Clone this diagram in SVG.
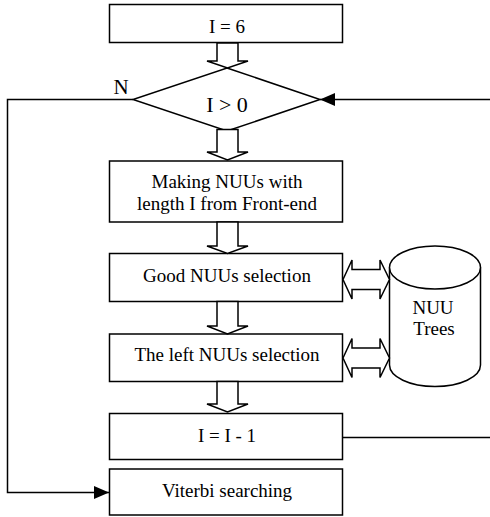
<svg xmlns="http://www.w3.org/2000/svg" width="490" height="517" viewBox="0 0 490 517">
<style>
.box{fill:#fff;stroke:#000;stroke-width:1.5}
.ln{fill:none;stroke:#000;stroke-width:1.5}
.blk{fill:#fff;stroke:#000;stroke-width:1.5;stroke-linejoin:miter}
text{font-family:"Liberation Serif","Times New Roman",serif;font-size:19px;fill:#000;text-anchor:middle}
</style>
<defs>
<marker id="ah" markerWidth="15" markerHeight="13" refX="15" refY="6.5" orient="auto" markerUnits="userSpaceOnUse">
<path d="M0,0 L15,6.5 L0,13 Z" fill="#000"/>
</marker>
</defs>
<g id="connectors">
<path class="ln" d="M133,99.5 H7.5 V492.5 H109" marker-end="url(#ah)"/>
<path class="ln" d="M490,99.5 H320" marker-end="url(#ah)"/>
<path class="ln" d="M343,437.5 H490"/>
</g>
<g id="n_init">
<rect class="box" x="109.5" y="4.5" width="233" height="38"/>
<text x="227" y="33">I = 6</text>
</g>
<g id="n_cond">
<polygon class="box" points="227,68 320,99.5 227,131 133,99.5"/>
<text x="227" y="112" style="font-size:22px">I &gt; 0</text>
<text x="121" y="94" style="font-size:21px">N</text>
</g>
<g id="n_make">
<rect class="box" x="109.5" y="161" width="233" height="61"/>
<text x="227" y="188">Making NUUs with</text>
<text x="227" y="210">length I from Front-end</text>
</g>
<g id="n_good">
<rect class="box" x="109.5" y="253.5" width="233" height="48"/>
<text x="227" y="282">Good NUUs selection</text>
</g>
<g id="n_left">
<rect class="box" x="109.5" y="334" width="233" height="47.5"/>
<text x="227" y="361">The left NUUs selection</text>
</g>
<g id="n_dec">
<rect class="box" x="109.5" y="413.5" width="233" height="46"/>
<text x="227" y="442">I = I - 1</text>
</g>
<g id="n_viterbi">
<rect class="box" x="109.5" y="469" width="233" height="46"/>
<text x="227" y="497">Viterbi searching</text>
</g>
<g id="n_trees">
<path class="box" d="M389.5,267.5 V365 A45.5,21.5 0 0 0 480.5,365 V267.5"/>
<ellipse class="box" cx="435" cy="267.5" rx="45.5" ry="21.5"/>
<text x="433" y="314">NUU</text>
<text x="434" y="335">Trees</text>
</g>
<g id="block_arrows">
<path class="blk" d="M217,43 V61 H207 L227.5,68 L248,61 H238 V43 Z"/>
<path class="blk" d="M217,129.5 V152 H207 L227.5,160 L248,152 H238 V129.5 Z"/>
<path class="blk" d="M217,222 V246 H207 L227.5,253.5 L248,246 H238 V222 Z"/>
<path class="blk" d="M217,301.5 V326 H207 L227.5,334 L248,326 H238 V301.5 Z"/>
<path class="blk" d="M217,381.5 V404 H207 L227.5,412 L248,404 H238 V381.5 Z"/>
<path class="blk" d="M343,279.5 L352,260 V269.5 H380 V260 L389.5,279.5 L380,299 V289.5 H352 V299 Z"/>
<path class="blk" d="M343,358 L352,338.5 V348 H380 V338.5 L389.5,358 L380,377.5 V368 H352 V377.5 Z"/>
</g>
</svg>
